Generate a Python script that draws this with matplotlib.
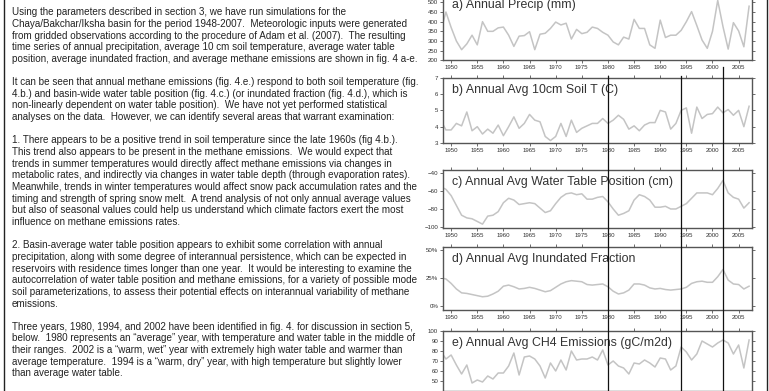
import numpy as np
import matplotlib
matplotlib.use("Agg")
import matplotlib.pyplot as plt
from matplotlib.transforms import blended_transform_factory
from matplotlib.lines import Line2D

# ---------------------------------------------------------------- data
years = np.arange(1948, 2008)

precip = [350, 450, 370, 300, 255, 285, 330, 280, 400, 350,
          350, 368, 372, 330, 272, 325, 328, 348, 255, 335,
          340, 365, 398, 383, 392, 310, 360, 338, 345, 372,
          365, 345, 330, 295, 280, 320, 310, 412, 365, 365,
          280, 262, 408, 318, 330, 330, 355, 400, 452, 380,
          305, 262, 350, 510, 375, 258, 395, 352, 270, 480]

soil_t = [4.4, 3.8, 3.8, 4.2, 4.05, 4.9, 3.75, 4.0, 3.55, 3.85,
          3.6, 4.1, 3.45, 4.0, 4.6, 3.9, 4.2, 4.75, 4.4, 4.3,
          3.4, 3.15, 3.4, 4.2, 3.4, 4.4, 3.65, 3.9, 4.05, 4.2,
          4.2, 4.5, 4.2, 4.4, 4.7, 4.45, 3.85, 4.05, 3.75, 4.1,
          4.25, 4.25, 5.0, 4.9, 3.85, 4.2, 5.0, 5.15, 3.6, 5.2,
          4.5, 4.75, 4.8, 5.2, 4.85, 5.05, 4.7, 5.0, 4.0, 5.25]

water_table = [-55, -58, -65, -76, -87, -90, -91, -94, -97, -88,
               -87, -83, -73, -68, -70, -75, -74, -73, -74, -79,
               -84, -82, -74, -67, -63, -62, -64, -63, -69, -69,
               -67, -66, -72, -80, -87, -85, -82, -70, -64, -66,
               -70, -78, -78, -77, -80, -80, -77, -74, -68, -62,
               -62, -62, -64, -57, -48, -62, -67, -69, -79, -73]

inundated = [25, 24, 20, 15, 11.5, 11, 10, 9, 8, 8.5,
             10.5, 13, 17.5, 18.5, 17, 15, 15.5, 16.5, 15.5, 14,
             12.5, 13.5, 16.5, 19.5, 21.5, 22.5, 22, 21.5, 19, 18.5,
             19, 19.5, 17, 13, 10.5, 11.5, 14, 19.5, 19.5, 18.5,
             16, 15, 15.5, 14.5, 14, 14.5, 15, 16.5, 20, 21.5,
             22, 21, 21, 26, 32.5, 23, 19.5, 19, 15, 17.5]

ch4 = [80, 72, 76, 66, 57, 66, 48, 51, 49, 55,
       52, 58, 58, 65, 78, 56, 74, 75, 72, 65,
       53, 68, 60, 71, 61, 80, 71, 72, 72, 74,
       71, 81, 66, 70, 65, 63, 57, 68, 67, 71,
       68, 64, 73, 72, 61, 65, 84, 79, 71, 77,
       90, 87, 84, 88, 91, 88, 77, 86, 63, 91]

highlight_years = [1980, 1994, 2002]

titles = ["a) Annual Precip (mm)",
          "b) Annual Avg 10cm Soil T (C)",
          "c) Annual Avg Water Table Position (cm)",
          "d) Annual Avg Inundated Fraction",
          "e) Annual Avg CH4 Emissions (gC/m2d)"]

paragraphs = [
    ["Using the parameters described in section 3, we have run simulations for the",
     "Chaya/Bakchar/Iksha basin for the period 1948-2007.  Meteorologic inputs were generated",
     "from gridded observations according to the procedure of Adam et al. (2007).  The resulting",
     "time series of annual precipitation, average 10 cm soil temperature, average water table",
     "position, average inundated fraction, and average methane emissions are shown in fig. 4 a-e."],
    ["It can be seen that annual methane emissions (fig. 4.e.) respond to both soil temperature (fig.",
     "4.b.) and basin-wide water table position (fig. 4.c.) (or inundated fraction (fig. 4.d.), which is",
     "non-linearly dependent on water table position).  We have not yet performed statistical",
     "analyses on the data.  However, we can identify several areas that warrant examination:"],
    ["1. There appears to be a positive trend in soil temperature since the late 1960s (fig 4.b.).",
     "This trend also appears to be present in the methane emissions.  We would expect that",
     "trends in summer temperatures would directly affect methane emissions via changes in",
     "metabolic rates, and indirectly via changes in water table depth (through evaporation rates).",
     "Meanwhile, trends in winter temperatures would affect snow pack accumulation rates and the",
     "timing and strength of spring snow melt.  A trend analysis of not only annual average values",
     "but also of seasonal values could help us understand which climate factors exert the most",
     "influence on methane emissions rates."],
    ["2. Basin-average water table position appears to exhibit some correlation with annual",
     "precipitation, along with some degree of interannual persistence, which can be expected in",
     "reservoirs with residence times longer than one year.  It would be interesting to examine the",
     "autocorrelation of water table position and methane emissions, for a variety of possible mode",
     "soil parameterizations, to assess their potential effects on interannual variability of methane",
     "emissions."],
    ["Three years, 1980, 1994, and 2002 have been identified in fig. 4. for discussion in section 5,",
     "below.  1980 represents an \u201caverage\u201d year, with temperature and water table in the middle of",
     "their ranges.  2002 is a \u201cwarm, wet\u201d year with extremely high water table and warmer than",
     "average temperature.  1994 is a \u201cwarm, dry\u201d year, with high temperature but slightly lower",
     "than average water table."],
]

# ---------------------------------------------------------------- layout
W, H = 769, 391
FONT = "Liberation Sans"
fig = plt.figure(figsize=(W / 100, H / 100), dpi=100)


def px_box(left, top, right, bottom):
    return [left / W, 1 - bottom / H, (right - left) / W, (bottom - top) / H]


# page rules
for xp in (3.5, 766.5):
    fig.add_artist(Line2D([xp / W, xp / W], [0, 1], transform=fig.transFigure,
                          color="#222222", lw=1.0))

# body text
line_pitch = 11.65
y = 12.3
for para in paragraphs:
    for line in para:
        fig.text(12 / W, 1 - y / H, line, ha="left", va="center",
                 fontsize=7.15, family=FONT, color="#222222")
        y += line_pitch
    y += line_pitch

# chart panels
AX_L, AX_R = 443.3, 751.7
panels = [
    dict(data=precip, ylim=(200, 550), ticks=[200, 250, 300, 350, 400, 450, 500],
         labels=None, top=-7.3, bottom=60.3),
    dict(data=soil_t, ylim=(3, 7), ticks=[3, 4, 5, 6, 7],
         labels=None, top=77.7, bottom=143.0),
    dict(data=water_table, ylim=(-101, -36.3), ticks=[-100, -80, -60, -40],
         labels=["\u2212100", "\u221280", "\u221260", "\u221240"], top=170.0, bottom=227.7),
    dict(data=inundated, ylim=(-3.9, 53), ticks=[0, 25, 50],
         labels=["0%", "25%", "50%"], top=246.7, bottom=310.0),
    dict(data=ch4, ylim=(40, 100), ticks=[50, 60, 70, 80, 90, 100],
         labels=None, top=331.0, bottom=391.0),
]

axes = []
for i, (title, p) in enumerate(zip(titles, panels)):
    ax = fig.add_axes(px_box(AX_L, p["top"], AX_R, p["bottom"]))
    ax.plot(years, p["data"], color="#c4c4c4", lw=1.1, solid_joinstyle="round")
    ax.set_xlim(1948.5, 2007.5)
    ax.set_ylim(*p["ylim"])
    ax.set_yticks(p["ticks"])
    if p["labels"] is not None:
        ax.set_yticklabels(p["labels"])
    ax.set_xticks(np.arange(1950, 2006, 5))
    ax.tick_params(direction="out", length=2.2, width=0.6, color="#555555",
                   labelsize=4.4, labelcolor="#333333", pad=1.5,
                   top=True, right=True, labeltop=False, labelright=False,
                   labelbottom=(i < len(panels) - 1))
    for lab in ax.get_xticklabels() + ax.get_yticklabels():
        lab.set_family(FONT)
    for s in ax.spines.values():
        s.set_color("#555555")
        s.set_linewidth(1.0)
    ax.annotate(title, xy=(0, 1), xycoords="axes fraction",
                xytext=(6.5, -12.3 * 0.72), textcoords="offset points",
                ha="left", va="center", fontsize=8.9, family=FONT, color="#333333")
    axes.append(ax)

# year markers across panels b-e
trans = blended_transform_factory(axes[-1].transData, fig.transFigure)
marker_tops = [76.0, 76.0, 66.7]
for yr, tp in zip(highlight_years, marker_tops):
    fig.add_artist(Line2D([yr, yr], [0, 1 - tp / H], transform=trans,
                          color="#111111", lw=0.9))

fig.savefig("out.png", dpi=100)
